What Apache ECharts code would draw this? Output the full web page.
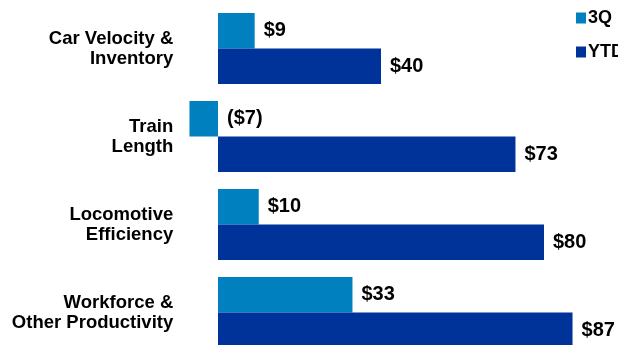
<!DOCTYPE html>
<html><head><meta charset="utf-8">
<script src="https://cdn.jsdelivr.net/npm/echarts@6/dist/echarts.min.js"></script>
<style>html,body{margin:0;padding:0;background:#fff}#c{width:618px;height:345px}</style>
</head><body><div id="c"></div>
<script>
const categories = ['Car Velocity &\nInventory', 'Train\nLength', 'Locomotive\nEfficiency', 'Workforce &\nOther Productivity'];
const seriesNames = ['3Q', 'YTD'];
const values3Q = [9, -7, 10, 33];
const valuesYTD = [40, 73, 80, 87];
const colors = ['#0180BF', '#003399'];

const fmt = v => v >= 0 ? '$' + v : '($' + (-v) + ')';
const font = '"Liberation Sans", Arial, sans-serif';
const labelStyle = {show: true, position: 'right', distance: 9, color: '#000', fontWeight: 'bold', fontSize: 20, fontFamily: font, formatter: p => fmt(p.value)};

const chart = echarts.init(document.getElementById('c'), null, {renderer: 'canvas'});
chart.setOption({
  animation: false,
  color: colors,
  grid: {left: 177.25, right: 33.25, top: 4.5, height: 352, outerBoundsMode: 'none', containLabel: false},
  legend: {
    orient: 'vertical', left: 571, top: 4, itemWidth: 10, itemHeight: 11, itemGap: 16, icon: 'rect',
    textStyle: {fontSize: 18, fontWeight: 'bold', fontFamily: font, color: '#000', padding: [0,0,0,-3]},
    data: seriesNames
  },
  xAxis: {type: 'value', min: -10, max: 90, show: false, splitLine: {show: false}},
  yAxis: {
    type: 'category', inverse: true, data: categories,
    axisLine: {show: false}, axisTick: {show: false},
    axisLabel: {margin: 4, color: '#000', fontWeight: 'bold', fontSize: 18.5, lineHeight: 20, fontFamily: font, align: 'right'}
  },
  series: [
    {name: seriesNames[0], type: 'bar', data: values3Q, barGap: 0, barCategoryGap: '19.3%', label: labelStyle},
    {name: seriesNames[1], type: 'bar', data: valuesYTD, barGap: 0, barCategoryGap: '19.3%', label: labelStyle}
  ]
});
</script></body></html>
